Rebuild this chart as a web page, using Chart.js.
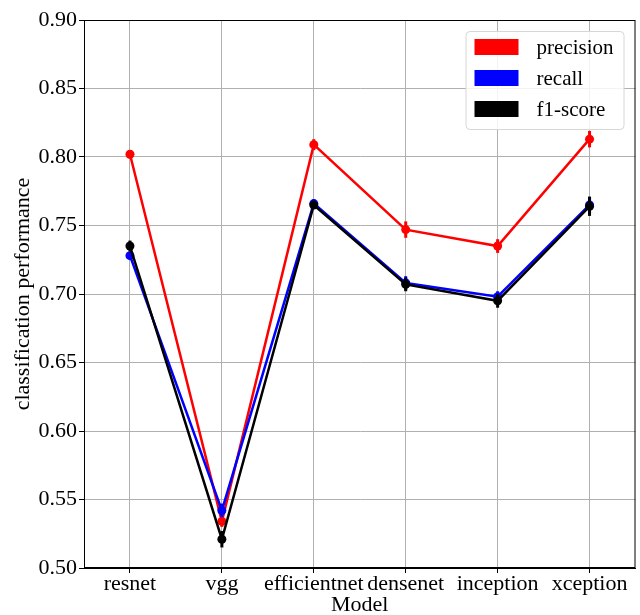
<!DOCTYPE html>
<html>
<head>
<meta charset="utf-8">
<script src="https://cdn.jsdelivr.net/npm/chart.js@4/dist/chart.umd.min.js"></script>
<style>
  html, body { margin: 0; padding: 0; background: #fff; }
  #wrap { width: 640px; height: 615px; }
</style>
</head>
<body>
<div id="wrap"><canvas id="myChart" width="640" height="615"></canvas></div>
<script>
const models = ["resnet", "vgg", "efficientnet", "densenet", "inception", "xception"];

const precision = [0.802, 0.534, 0.809, 0.747, 0.735, 0.813];
const recall    = [0.728, 0.542, 0.766, 0.708, 0.698, 0.765];
const f1score   = [0.735, 0.521, 0.765, 0.707, 0.695, 0.764];

const precisionErr = [0.003, 0.004, 0.004, 0.006, 0.005, 0.006];
const recallErr    = [0.002, 0.005, 0.003, 0.005, 0.004, 0.006];
const f1Err        = [0.004, 0.006, 0.003, 0.005, 0.005, 0.007];

const yTicks = [0.50, 0.55, 0.60, 0.65, 0.70, 0.75, 0.80, 0.85, 0.90];

const font = "'Liberation Serif', 'DejaVu Serif', serif";

// error bars drawn right after each line
const errorBars = {
  id: 'errorBars',
  afterDatasetDraw(chart, args) {
    const ds = chart.data.datasets[args.index];
    const meta = args.meta;
    const y = chart.scales.y;
    const c = chart.ctx;
    c.save();
    c.strokeStyle = ds.borderColor;
    c.lineWidth = 3;
    meta.data.forEach((pt, i) => {
      const v = ds.data[i], e = ds.err[i];
      c.beginPath();
      c.moveTo(pt.x, y.getPixelForValue(v - e));
      c.lineTo(pt.x, y.getPixelForValue(v + e));
      c.stroke();
    });
    c.restore();
  }
};

// frame + legend box inside the plot
const frameLegend = {
  id: 'frameLegend',
  afterDraw(chart) {
    const c = chart.ctx;
    const a = chart.chartArea;
    c.save();
    c.strokeStyle = '#000';
    c.lineWidth = 1;
    c.strokeRect(a.left + 0.5, a.top + 0.5, a.right - a.left - 1, a.bottom - a.top - 1);

    const bx = a.right - 170, by = a.top + 11, bw = 158, bh = 98;
    c.beginPath();
    c.roundRect(bx + 0.5, by + 0.5, bw, bh, 4);
    c.fillStyle = 'rgba(255,255,255,0.85)';
    c.fill();
    c.strokeStyle = '#d6d6d6';
    c.stroke();

    c.font = "21px " + font;
    c.textBaseline = 'middle';
    chart.data.datasets.forEach((ds, i) => {
      const cy = by + 16 + i * 31;
      c.fillStyle = ds.borderColor;
      c.fillRect(bx + 9, cy - 8, 44, 16);
      c.fillStyle = '#000';
      c.fillText(ds.label, bx + 71, cy + 1);
    });
    c.restore();
  }
};

function line(label, data, err, color, order) {
  return {
    label: label,
    data: data,
    err: err,
    borderColor: color,
    backgroundColor: color,
    borderWidth: 2.5,
    pointRadius: 4.5,
    pointHoverRadius: 4.5,
    pointBorderWidth: 0,
    tension: 0,
    order: order
  };
}

new Chart(document.getElementById('myChart'), {
  type: 'line',
  data: {
    labels: models,
    datasets: [
      line("precision", precision, precisionErr, 'rgb(255,0,0)', 2),
      line("recall", recall, recallErr, 'rgb(0,0,255)', 1),
      line("f1-score", f1score, f1Err, 'rgb(0,0,0)', 0)
    ]
  },
  options: {
    responsive: false,
    animation: false,
    layout: { padding: { top: 20, right: 4, left: 0, bottom: 0 } },
    plugins: {
      legend: { display: false },
      tooltip: { enabled: false }
    },
    scales: {
      x: {
        offset: true,
        grid: { color: '#b0b0b0', lineWidth: 1, tickColor: '#000', tickLength: 5, offset: false },
        border: { color: '#000', width: 1 },
        ticks: { color: '#000', font: { family: font, size: 22 }, padding: -2, maxRotation: 0, autoSkip: false },
        title: { display: true, text: 'Model', color: '#000', font: { family: font, size: 22 }, padding: { top: 0, bottom: -3 } },
        afterFit(s) { s.height = 47; }
      },
      y: {
        min: 0.5,
        max: 0.9,
        afterBuildTicks(s) { s.ticks = yTicks.map(v => ({ value: v })); },
        grid: { color: '#b0b0b0', lineWidth: 1, tickColor: '#000', tickLength: 5 },
        border: { color: '#000', width: 1 },
        ticks: {
          color: '#000',
          font: { family: font, size: 22 },
          padding: 2,
          callback: v => v.toFixed(2)
        },
        title: { display: true, text: 'classification performance', color: '#000', font: { family: font, size: 22 }, padding: { top: 10, bottom: 0 } },
        afterFit(s) { s.width = 84; }
      }
    }
  },
  plugins: [errorBars, frameLegend]
});
</script>
</body>
</html>
